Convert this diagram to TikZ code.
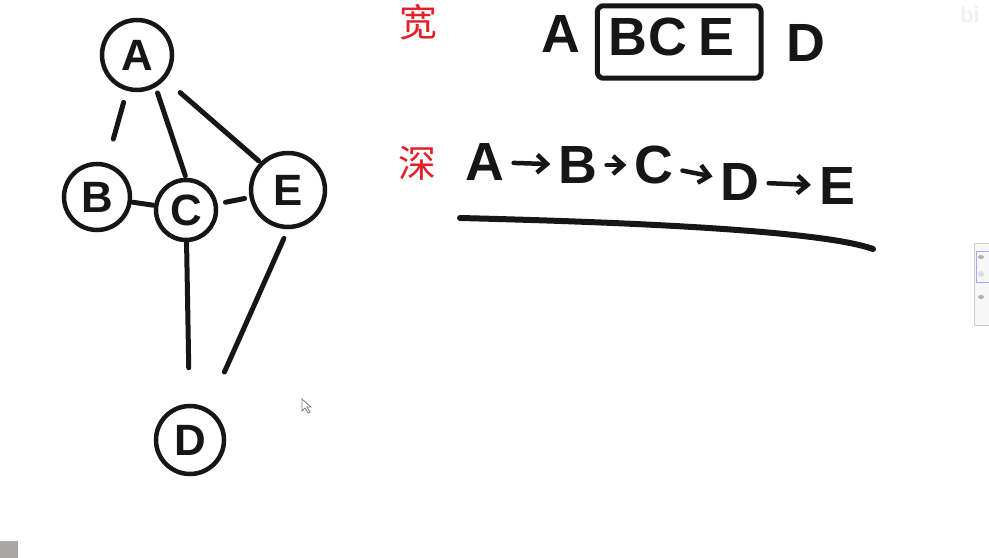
\documentclass[tikz,border=0pt]{standalone}
\usepackage{fontspec}
\setmainfont{Liberation Sans}
\newfontfamily\cjk{Noto Sans CJK SC}
\usetikzlibrary{arrows.meta,positioning,fit}
\definecolor{bdrouge}{RGB}{230,30,40}
\definecolor{bdencre}{RGB}{22,22,22}
\definecolor{bdgris}{RGB}{170,166,166}

\begin{document}
\begin{tikzpicture}[x=1bp, y=-1bp,
  vertex/.style={circle, draw=bdencre, line width=4.5bp, inner sep=0pt,
    text=bdencre, font=\bfseries\fontsize{44}{44}\selectfont},
  link/.style={bdencre, line width=5bp, line cap=round},
  letter/.style={inner sep=0pt, text=bdencre, font=\bfseries\fontsize{54}{54}\selectfont},
  stepto/.style={-{Straight Barb[length=10bp,width=18bp]}, bdencre,
    line width=4.5bp, line cap=round, shorten <=9bp, shorten >=8bp},
  hanzi/.style={text=bdrouge, font=\cjk\fontsize{38}{38}\selectfont}
]
  \useasboundingbox (0,0) rectangle (989,558);

  % Graph
  \node[vertex, minimum size=70bp] (A) at (137,55) {A};
  \node[vertex, minimum size=66bp] (B) at (97,197) {B};
  \node[vertex, minimum size=60bp] (C) at (186,210) {C};
  \node[vertex, minimum size=74bp] (E) at (288,190) {E};
  \node[vertex, minimum size=68bp] (D) at (190,440) {D};

  % Edges
  \draw[link, shorten <=12bp, shorten >=25bp] (A) -- (B);
  \draw[link, shorten <=6bp, shorten >=2bp] (A.-60) -- (C.north);
  \draw[link, shorten <=20bp, shorten >=2bp] (A) -- (E.135);
  \draw[link, shorten <=1bp, shorten >=1bp] (B) -- (C);
  \draw[link, shorten <=8bp, shorten >=5bp] (C) -- (E);
  \draw[link, shorten >=36bp] (C) -- (D);
  \draw[link, shorten <=10bp, shorten >=40bp] (E.south) -- (D.60);

  % Breadth
  \node[hanzi] (kuan) at (418,22) {宽};
  \node[letter] (wA) at (561,34) {A};
  \node[letter] (wB) at (628,37) {B};
  \node[letter] (wC) at (668,37) {C};
  \node[letter] (wE) at (716,37) {E};
  \node[letter] (wD) at (806,43) {D};
  \node[draw=bdencre, line width=5bp, rounded corners=6bp, inner xsep=19bp,
    inner ysep=17bp, fit=(wB)(wC)(wE), xshift=8bp, yshift=-5bp] (frontier) {};

  % Depth
  \node[hanzi] (shen) at (417,163) {深};
  \node[letter] (dA) at (485,162) {A};
  \node[letter] (dB) at (578,165) {B};
  \node[letter] (dC) at (654,165) {C};
  \node[letter] (dD) at (740,182) {D};
  \node[letter] (dE) at (837,186) {E};
  \draw[stepto] (dA) -- (dB);
  \draw[stepto] (dB) -- (dC);
  \draw[stepto] (dC) -- (dD);
  \draw[stepto] (dD) -- (dE);
  \draw[link, line width=6bp] (460,218) .. controls (620,222) and (820,230) .. (873,249);

  % Screen bits
  \fill[bdgris] (0,541) rectangle (18,558);
  \filldraw[fill=white, draw=gray, line width=0.8bp] (302,399) -- (302,411) -- (305,408)
    -- (308,413) -- (310,412) -- (307,407) -- (311,407) -- cycle;
  \filldraw[fill=gray!6, draw=gray!40, line width=1bp] (974,244) rectangle (995,326);
  \draw[blue!35, line width=1bp] (976,252) rectangle (995,283);
  \fill[gray!60] (981,257) ellipse (3bp and 2bp);
  \fill[gray!25] (981,274) circle (3bp);
  \fill[gray!60] (981,297) ellipse (3bp and 2bp);
  \node[text=gray!12, font=\bfseries\fontsize{22}{22}\selectfont] (logo) at (970,15) {bi};
\end{tikzpicture}
\end{document}
